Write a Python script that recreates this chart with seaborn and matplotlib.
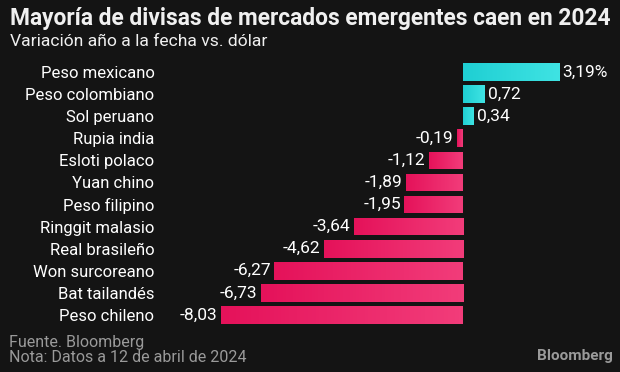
import numpy as np
import pandas as pd
import seaborn as sns
import matplotlib.pyplot as plt
from matplotlib.colors import LinearSegmentedColormap

CURRENCIES = [
    "Peso mexicano", "Peso colombiano", "Sol peruano", "Rupia india",
    "Esloti polaco", "Yuan chino", "Peso filipino", "Ringgit malasio",
    "Real brasileño", "Won surcoreano", "Bat tailandés", "Peso chileno",
]
CHANGE = [3.19, 0.72, 0.34, -0.19, -1.12, -1.89, -1.95, -3.64, -4.62, -6.27, -6.73, -8.03]
VALUE_LABELS = ["3,19%", "0,72", "0,34", "-0,19", "-1,12", "-1,89", "-1,95",
                "-3,64", "-4,62", "-6,27", "-6,73", "-8,03"]

BG = "#141414"
POS = ("#1fcfd3", "#3fe3e3")
NEG = ("#e5125a", "#f23c7a")
FONT = ["Roboto", "DejaVu Sans"]

df = pd.DataFrame({"currency": CURRENCIES, "change": CHANGE})
df["sign"] = np.where(df["change"] >= 0, "pos", "neg")

sns.set_style("dark")
plt.rcParams["font.family"] = FONT

fig = plt.figure(figsize=(6.2, 3.72), dpi=100, facecolor=BG)
ax = fig.add_axes([160 / 620, 46 / 372, 440 / 620, 265 / 372])
ax.set_facecolor(BG)

sns.barplot(data=df, y="currency", x="change", hue="sign",
            palette={"pos": POS[0], "neg": NEG[0]}, orient="h",
            width=0.8, legend=False, ax=ax)

# gradient fill on each bar
for patch in ax.patches:
    x0, y0 = patch.get_x(), patch.get_y()
    w, h = patch.get_width(), patch.get_height()
    if w == 0:
        continue
    c = POS if w > 0 else NEG
    cmap = LinearSegmentedColormap.from_list("g", c)
    left, right = min(x0, x0 + w), max(x0, x0 + w)
    im = ax.imshow(np.linspace(0, 1, 64).reshape(1, -1), cmap=cmap,
                   extent=(left, right, y0 + h, y0), aspect="auto", zorder=3)
    im.set_clip_path(patch)
    patch.set_edgecolor("none")
ax.set_xlim(-10.07, 4.55)
ax.set_ylim(11.5, -0.5)

for i, (v, lab) in enumerate(zip(CHANGE, VALUE_LABELS)):
    if v >= 0:
        ax.text(v + 0.12, i, lab, ha="left", va="center", color="white", fontsize=12.5)
    else:
        ax.text(v - 0.12, i, lab, ha="right", va="center", color="white", fontsize=12.5)

ax.set_yticks(range(len(CURRENCIES)))
ax.set_yticklabels(CURRENCIES, fontsize=12, color="white")
ax.tick_params(axis="y", length=0, pad=4)
ax.set_xticks([])
ax.set_xlabel("")
ax.set_ylabel("")
ax.grid(False)
for s in ax.spines.values():
    s.set_visible(False)

fig.text(10 / 620, 1 - 19 / 372, "Mayoría de divisas de mercados emergentes caen en 2024",
         fontsize=16.4, fontweight="bold", color="#f0f0f0", va="center", ha="left")
fig.text(10 / 620, 1 - 41 / 372, "Variación año a la fecha vs. dólar",
         fontsize=12.6, color="#f0f0f0", va="center", ha="left")
fig.text(9 / 620, 1 - 343 / 372, "Fuente. Bloomberg",
         fontsize=11.5, color="#9a9a9a", va="center", ha="left")
fig.text(9 / 620, 1 - 357 / 372, "Nota: Datos a 12 de abril de 2024",
         fontsize=11.5, color="#9a9a9a", va="center", ha="left")
fig.text(613 / 620, 1 - 356 / 372, "Bloomberg",
         fontsize=11, fontweight="bold", color="#9a9a9a", va="center", ha="right")

fig.savefig("out.png", dpi=100, facecolor=BG)
